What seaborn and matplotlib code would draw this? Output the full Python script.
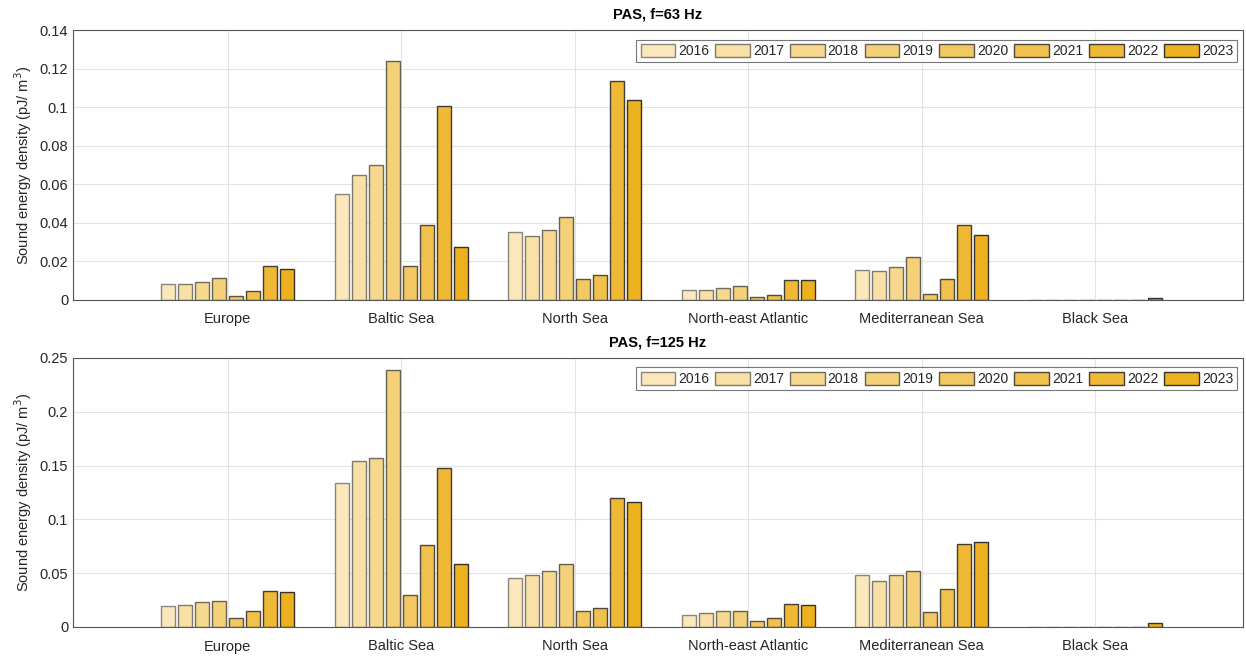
import matplotlib
matplotlib.use("Agg")
import matplotlib.pyplot as plt
import matplotlib.ticker as mticker
from matplotlib.patches import Patch
import seaborn as sns
import numpy as np
import pandas as pd

regions = ["Europe", "Baltic Sea", "North Sea", "North-east Atlantic",
           "Mediterranean Sea", "Black Sea"]
years = ["2016", "2017", "2018", "2019", "2020", "2021", "2022", "2023"]

# rows = regions, columns = years
pas_63 = [
    [0.0081, 0.0081, 0.0092, 0.0112, 0.0022, 0.0047, 0.0178, 0.0161],
    [0.0551, 0.0646, 0.0698, 0.1241, 0.0176, 0.0387, 0.1006, 0.0276],
    [0.0350, 0.0330, 0.0365, 0.0430, 0.0110, 0.0130, 0.1135, 0.1035],
    [0.0050, 0.0053, 0.0064, 0.0073, 0.0016, 0.0026, 0.0102, 0.0102],
    [0.0157, 0.0148, 0.0172, 0.0221, 0.0033, 0.0107, 0.0390, 0.0338],
    [0.0002, 0.0002, 0.0002, 0.0, 0.0, 0.0, 0.0, 0.0012],
]
pas_125 = [
    [0.0199, 0.0208, 0.0229, 0.0242, 0.0081, 0.0146, 0.0332, 0.0322],
    [0.1340, 0.1540, 0.1575, 0.2385, 0.0300, 0.0765, 0.1480, 0.0590],
    [0.0460, 0.0480, 0.0520, 0.0585, 0.0150, 0.0180, 0.1200, 0.1160],
    [0.0110, 0.0130, 0.0145, 0.0150, 0.0060, 0.0085, 0.0210, 0.0200],
    [0.0485, 0.0430, 0.0485, 0.0520, 0.0140, 0.0350, 0.0770, 0.0790],
    [0.0003, 0.0003, 0.0003, 0.0, 0.0, 0.0, 0.0, 0.0040],
]

# face colours: MATLAB orange faded towards white
base = np.array([0.929, 0.694, 0.125])
alphas = np.linspace(0.3, 1.0, len(years))
colors = [tuple(1 - a * (1 - base)) for a in alphas]
edges = [(0.12, 0.12, 0.12, 0.35 + 0.55 * a) for a in alphas]

sns.set_style("white")
plt.rcParams['font.family'] = ['Liberation Sans', 'DejaVu Sans']
text_col = "#262626"


def to_frame(values):
    rows = []
    for r, reg in enumerate(regions):
        for y, yr in enumerate(years):
            rows.append({"region": reg, "year": yr, "value": values[r][y]})
    return pd.DataFrame(rows)


def draw_panel(ax, values, title, ymax, ystep):
    df = to_frame(values)
    sns.barplot(data=df, x="region", y="value", hue="year", order=regions,
                hue_order=years, palette=colors, width=0.783, gap=0.176,
                errorbar=None, saturation=1, linewidth=1.0, ax=ax,
                legend=False)
    # semi-transparent dark edges like the faded bars
    for cont, ec in zip(ax.containers, edges):
        for patch in cont:
            patch.set_edgecolor(ec)

    ax.set_xlim(-0.89, 5.85)
    ax.set_ylim(0, ymax)
    ax.yaxis.set_major_locator(mticker.MultipleLocator(ystep))
    ax.yaxis.set_major_formatter(mticker.FuncFormatter(lambda v, p: f"{v:g}"))
    ax.grid(True, color="#e3e3e3", linewidth=0.8)
    ax.set_axisbelow(True)
    for s in ax.spines.values():
        s.set_color("#555555")
        s.set_linewidth(0.8)
    ax.tick_params(direction="in", length=4, colors="#555555",
                   labelcolor=text_col, labelsize=10.5, right=False, top=False)
    ax.tick_params(axis="x", pad=9)
    ax.set_xlabel("")
    ax.set_ylabel("Sound energy density (pJ/ m$^3$)", fontsize=10.5,
                  color=text_col, labelpad=4)
    ax.set_title(title, fontsize=10.5, fontweight="bold", color="black", pad=8)
    handles = [Patch(facecolor=c, edgecolor=e, linewidth=1.0, label=y)
               for c, e, y in zip(colors, edges, years)]
    leg = ax.legend(handles=handles, ncol=8, loc="upper right",
                    bbox_to_anchor=(0.9975, 0.975), fontsize=10,
                    frameon=True, fancybox=False, edgecolor="#555555",
                    handlelength=2.5, handleheight=1.1, handletextpad=0.2,
                    columnspacing=0.45, borderpad=0.3, borderaxespad=0.2)
    leg.get_frame().set_linewidth(0.8)


fig = plt.figure(figsize=(12.46, 6.6), dpi=100)
ax1 = fig.add_axes([0.0586, 0.5455, 0.9390, 0.4090])
ax2 = fig.add_axes([0.0586, 0.0500, 0.9390, 0.4076])

draw_panel(ax1, pas_63, "PAS, f=63 Hz", 0.14, 0.02)
draw_panel(ax2, pas_125, "PAS, f=125 Hz", 0.25, 0.05)

fig.savefig("out.png", dpi=100)
